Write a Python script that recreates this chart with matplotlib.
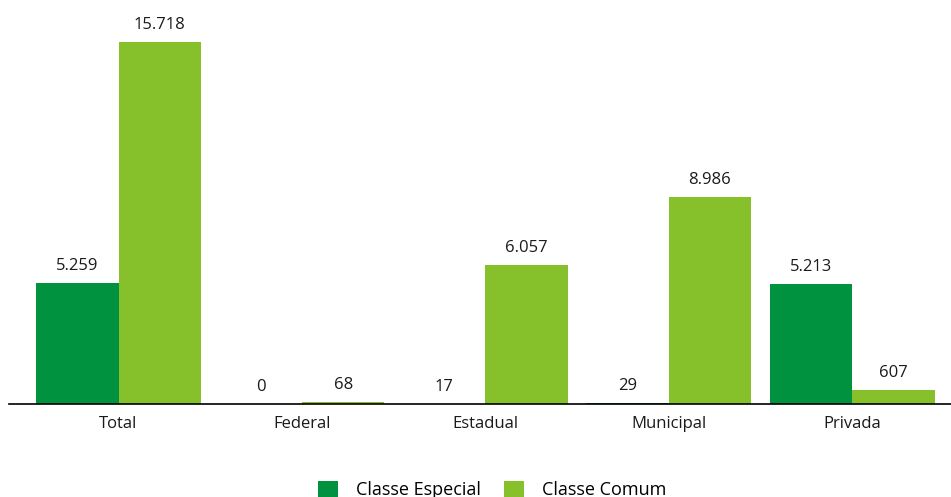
import matplotlib
matplotlib.use("Agg")
import matplotlib.pyplot as plt
import numpy as np

categories = ["Total", "Federal", "Estadual", "Municipal", "Privada"]
especial = [5259, 0, 17, 29, 5213]
comum = [15718, 68, 6057, 8986, 607]
especial_labels = ["5.259", "0", "17", "29", "5.213"]
comum_labels = ["15.718", "68", "6.057", "8.986", "607"]

plt.rcParams['font.family'] = ['Open Sans', 'DejaVu Sans']

W, H = 951, 497
fig = plt.figure(figsize=(W/100, H/100), dpi=100)
base = 404
ax = fig.add_axes([9/W, (H-base)/H, (951-9)/W, base/H])

spacing = 183.4
x0 = 118.5
xl = (9 - x0)/spacing
xr = (951 - x0)/spacing
ax.set_xlim(xl, xr)
ax.set_ylim(0, 15718*404/362)

x = np.arange(len(categories))
w = 82.5/spacing
c1 = "#00923F"
c2 = "#86C12B"
b1 = ax.bar(x - w/2, especial, w, color=c1, label="Classe Especial")
b2 = ax.bar(x + w/2, comum, w, color=c2, label="Classe Comum")

for xi, v, t in zip(x - w/2, especial, especial_labels):
    ax.annotate(t, (xi, v), xytext=(0, 9), textcoords="offset pixels",
                ha="center", va="bottom", fontsize=12, color="#1a1a1a")
for xi, v, t in zip(x + w/2, comum, comum_labels):
    ax.annotate(t, (xi, v), xytext=(0, 9), textcoords="offset pixels",
                ha="center", va="bottom", fontsize=12, color="#1a1a1a")

ax.set_xticks(x)
ax.set_xticklabels(categories, fontsize=12, color="#1a1a1a")
ax.tick_params(axis="x", length=0, pad=9)
ax.set_yticks([])
for s in ["top", "right", "left"]:
    ax.spines[s].set_visible(False)
ax.spines["bottom"].set_color("black")
ax.spines["bottom"].set_linewidth(1.2)

fig.legend(handles=[b1, b2], loc="center", bbox_to_anchor=(492/W, 1 - 490/H),
           ncol=2, frameon=False, fontsize=13, handlelength=1.1, handleheight=1.1,
           columnspacing=1.3, handletextpad=1.0)

fig.savefig("out.png", dpi=100)
